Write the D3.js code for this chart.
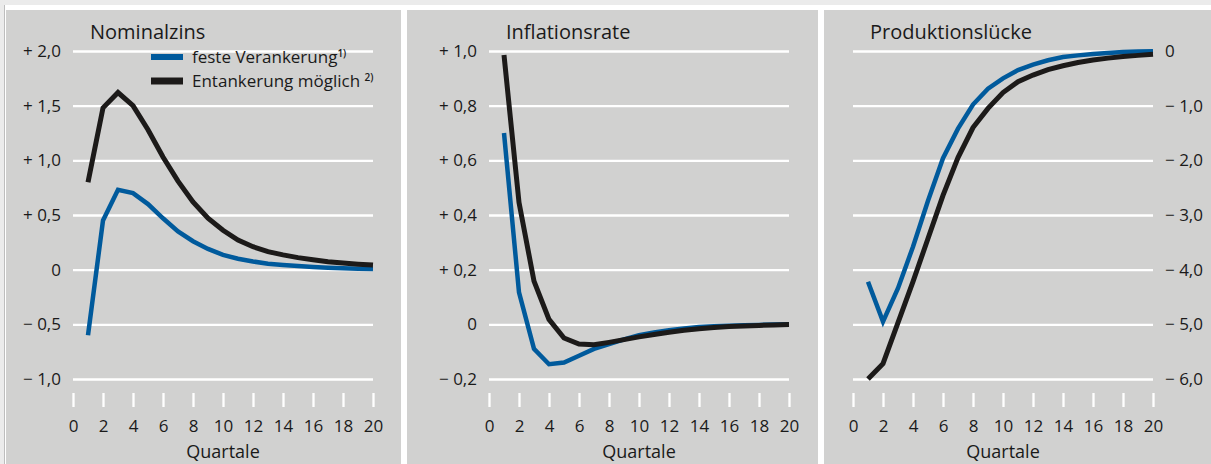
<!DOCTYPE html>
<html>
<head>
<meta charset="utf-8">
<script src="https://cdn.jsdelivr.net/npm/d3@7"></script>
<style>
  html, body { margin: 0; padding: 0; background: #fff; }
  svg { display: block; font-family: "Open Sans", "Noto Sans", sans-serif; }
</style>
</head>
<body>
<svg id="chart" width="1211" height="464"></svg>
<script>
// ---- Data ----
const quarters = d3.range(1, 21);
const xTicks = [0, 2, 4, 6, 8, 10, 12, 14, 16, 18, 20];
const xLabel = "Quartale";
const seriesNames = ["feste Verankerung", "Entankerung möglich"];
const seriesNotes = ["1)", "2)"];

const panelTitles = ["Nominalzins", "Inflationsrate", "Produktionslücke"];

// Nominalzins
const zinsFest = [-0.60, 0.45, 0.73, 0.70, 0.60, 0.47, 0.35, 0.26, 0.19, 0.135, 0.10, 0.075, 0.055, 0.043, 0.033, 0.025, 0.018, 0.012, 0.008, 0.005];
const zinsEntankert = [0.80, 1.48, 1.62, 1.50, 1.28, 1.03, 0.81, 0.62, 0.47, 0.36, 0.27, 0.21, 0.165, 0.135, 0.11, 0.09, 0.072, 0.06, 0.05, 0.042];
const zinsTicks = [2.0, 1.5, 1.0, 0.5, 0, -0.5, -1.0];
const zinsTickLabels = ["+ 2,0", "+ 1,5", "+ 1,0", "+ 0,5", "0", "− 0,5", "− 1,0"];

// Inflationsrate
const inflFest = [0.70, 0.117, -0.09, -0.146, -0.14, -0.115, -0.09, -0.072, -0.055, -0.04, -0.03, -0.022, -0.015, -0.01, -0.007, -0.005, -0.003, -0.002, -0.001, 0.0];
const inflEntankert = [0.985, 0.446, 0.158, 0.018, -0.05, -0.072, -0.075, -0.066, -0.056, -0.046, -0.037, -0.029, -0.022, -0.016, -0.012, -0.008, -0.006, -0.004, -0.002, -0.001];
const inflTicks = [1.0, 0.8, 0.6, 0.4, 0.2, 0, -0.2];
const inflTickLabels = ["+ 1,0", "+ 0,8", "+ 0,6", "+ 0,4", "+ 0,2", "0", "− 0,2"];

// Produktionslücke
const lueckeFest = [-4.22, -4.95, -4.34, -3.58, -2.74, -1.96, -1.42, -0.98, -0.69, -0.50, -0.35, -0.25, -0.17, -0.11, -0.08, -0.055, -0.035, -0.02, -0.01, -0.005];
const lueckeEntankert = [-6.0, -5.72, -4.97, -4.22, -3.43, -2.64, -1.95, -1.40, -1.05, -0.76, -0.56, -0.44, -0.34, -0.27, -0.21, -0.165, -0.13, -0.10, -0.08, -0.06];
const lueckeTicks = [0, -1, -2, -3, -4, -5, -6];
const lueckeTickLabels = ["0", "− 1,0", "− 2,0", "− 3,0", "− 4,0", "− 5,0", "− 6,0"];

// ---- Styles / layout ----
const colors = ["#005a9c", "#1c1a19"];
const panelBg = "#d1d1d0";
const textColor = "#1a1a1a";
const svg = d3.select("#chart");

svg.append("rect").attr("x", 0).attr("y", 0).attr("width", 1211).attr("height", 5).attr("fill", "#ebebeb");
svg.append("rect").attr("x", 0).attr("y", 0).attr("width", 4).attr("height", 464).attr("fill", "#ebebeb");
svg.append("rect").attr("x", 4).attr("y", 5).attr("width", 1).attr("height", 459).attr("fill", "#bdbdbd");

const panels = [
  { title: panelTitles[0], a: zinsFest, b: zinsEntankert, ticks: zinsTicks, labels: zinsTickLabels, dom: [-1, 2],
    bx: 6, bw: 395, x0: 73, x1: 373, titleX: 90, side: "left", legend: true },
  { title: panelTitles[1], a: inflFest, b: inflEntankert, ticks: inflTicks, labels: inflTickLabels, dom: [-0.2, 1.0],
    bx: 407, bw: 411, x0: 489, x1: 789, titleX: 506, side: "left" },
  { title: panelTitles[2], a: lueckeFest, b: lueckeEntankert, ticks: lueckeTicks, labels: lueckeTickLabels, dom: [-6, 0],
    bx: 824, bw: 387, x0: 853, x1: 1153, titleX: 870, side: "right" }
];

const yTop = 51, yBot = 379;

panels.forEach(p => {
  const g = svg.append("g");
  g.append("rect").attr("x", p.bx).attr("y", 10).attr("width", p.bw).attr("height", 454).attr("fill", panelBg);

  const x = d3.scaleLinear().domain([0, 20]).range([p.x0, p.x1]);
  const y = d3.scaleLinear().domain(p.dom).range([yBot, yTop]);
  const w = p.x1 - p.x0;

  // y axis with grid lines
  const fmt = v => p.labels[p.ticks.indexOf(v)];
  const yAxis = (p.side === "left" ? d3.axisLeft(y) : d3.axisRight(y))
    .tickValues(p.ticks).tickFormat(fmt).tickSizeInner(-w).tickSizeOuter(0).tickPadding(12);
  const ya = g.append("g")
    .attr("transform", `translate(${p.side === "left" ? p.x0 : p.x1},0)`)
    .call(yAxis);
  ya.select(".domain").remove();
  ya.selectAll(".tick line").attr("stroke", "#fff").attr("stroke-width", 2.3);
  ya.selectAll(".tick text").attr("fill", textColor).style("font-size", "17px")
    .style("font-family", "'Open Sans', 'Noto Sans', sans-serif");

  // x axis
  const xa = g.append("g").attr("transform", `translate(0,393)`)
    .call(d3.axisBottom(x).tickValues(xTicks).tickSizeInner(14).tickSizeOuter(0).tickPadding(13));
  xa.select(".domain").remove();
  xa.selectAll(".tick line").attr("stroke", "#fff").attr("stroke-width", 2.3);
  xa.selectAll(".tick text").attr("fill", textColor).style("font-size", "17px")
    .style("font-family", "'Open Sans', 'Noto Sans', sans-serif");

  g.append("text").attr("x", (p.x0 + p.x1) / 2).attr("y", 458).attr("text-anchor", "middle")
    .attr("fill", textColor).style("font-size", "18px").style("font-weight", 500).text(xLabel);

  g.append("text").attr("x", p.titleX).attr("y", 39).attr("fill", textColor)
    .style("font-size", "20px").style("font-weight", 500).text(p.title);

  const line = d3.line().x((d, i) => x(quarters[i])).y(d => y(d));
  [p.a, p.b].forEach((s, k) => {
    g.append("path").datum(s).attr("d", line).attr("fill", "none")
      .attr("stroke", colors[k]).attr("stroke-width", k === 0 ? 4.5 : 5)
      .attr("stroke-linejoin", "miter").attr("stroke-linecap", "butt");
  });

  if (p.legend) {
    const ly = [57, 81];
    seriesNames.forEach((n, k) => {
      g.append("line").attr("x1", 151).attr("x2", 183).attr("y1", ly[k]).attr("y2", ly[k])
        .attr("stroke", colors[k]).attr("stroke-width", k === 0 ? 6 : 7);
      const t = g.append("text").attr("x", 192).attr("y", ly[k]).attr("dy", "0.35em")
        .attr("fill", textColor).style("font-size", "17px");
      t.append("tspan").text(n + (k === 1 ? " " : ""));
      t.append("tspan").attr("dy", "-0.55em").style("font-size", "10px").style("font-weight", 600).text(seriesNotes[k]);
    });
  }
});
</script>
</body>
</html>
